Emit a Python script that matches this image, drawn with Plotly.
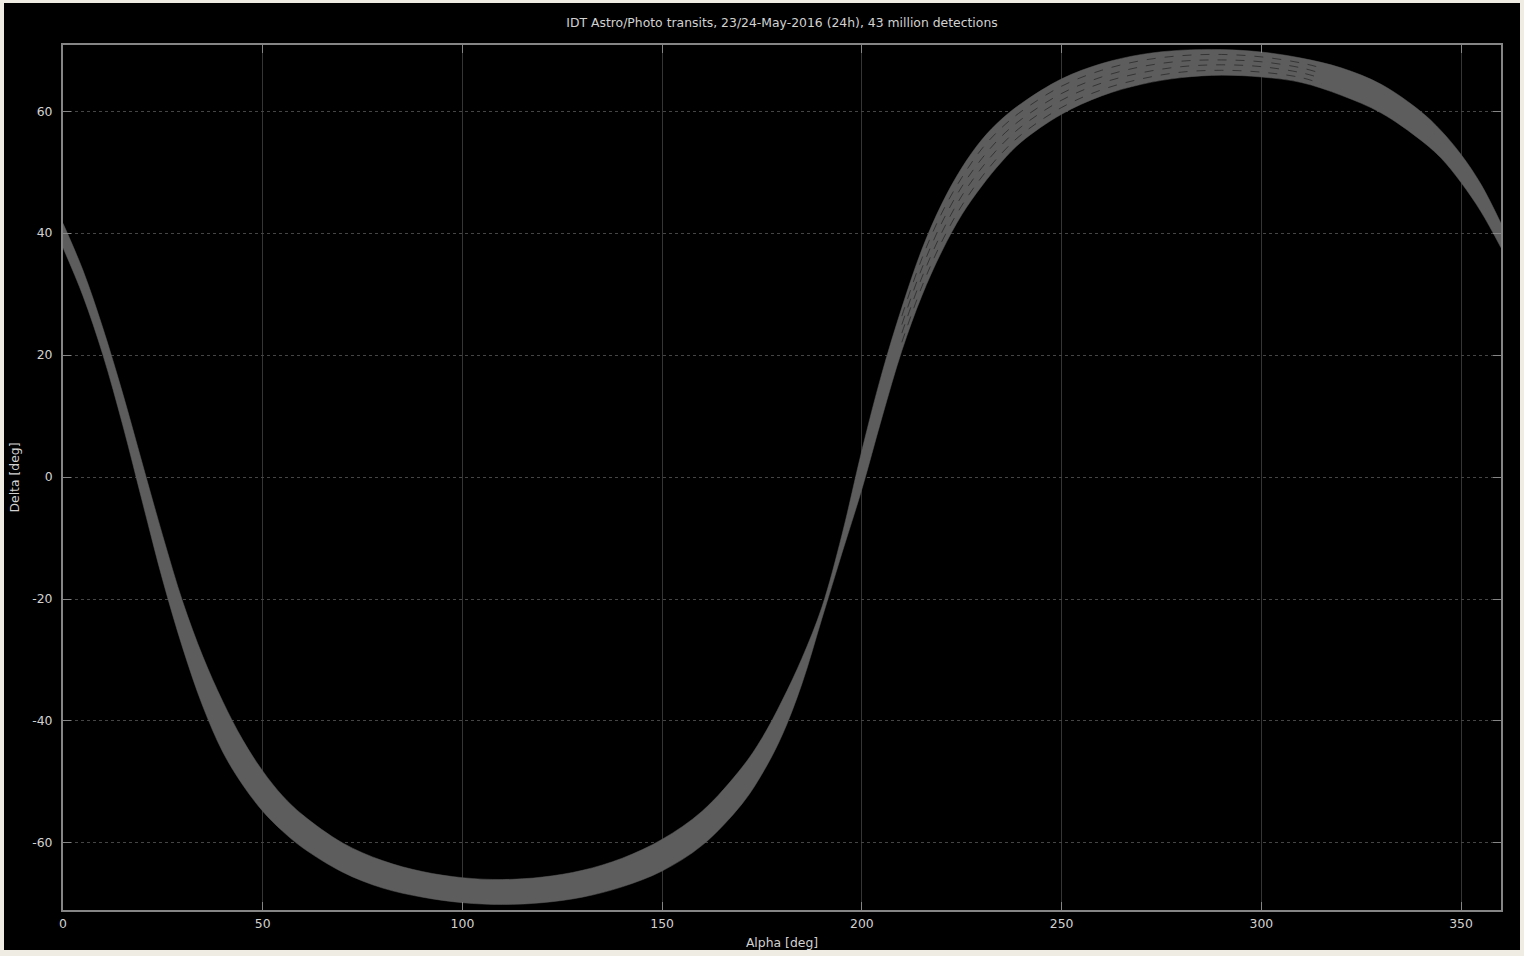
import plotly.graph_objects as go

# ---- data (Alpha [deg], Delta [deg]) ----
# upper and lower edges of the transit band
band_alpha = [0, 5, 10, 15, 20, 25, 30, 35, 40, 45, 50, 55, 60, 70, 80, 90, 100, 110, 120,
              130, 140, 150, 160, 170, 175, 180, 185, 190, 195, 200, 205, 210, 215, 220,
              225, 230, 235, 240, 250, 260, 270, 280, 290, 300, 310, 320, 330, 340, 345,
              350, 355, 360]
upper_delta = [41.6, 33.9, 24.4, 13.6, 1.9, -9.7, -20.5, -29.4, -36.8, -43.1, -48.2, -52.3,
               -55.4, -60.0, -62.9, -64.7, -65.7, -66.0, -65.6, -64.5, -62.5, -59.4, -54.8,
               -47.6, -42.8, -36.7, -29.7, -21.3, -9.5, 4.4, 17.0, 27.8, 37.3, 44.8, 50.7,
               55.3, 58.7, 61.3, 65.3, 67.8, 69.3, 70.0, 70.1, 69.7, 68.7, 67.1, 64.4, 59.9,
               56.8, 52.9, 48.0, 41.6]
lower_delta = [37.6, 29.7, 20.0, 8.4, -4.4, -17.0, -28.1, -37.6, -45.1, -50.5, -54.8, -58.1,
               -60.8, -64.8, -67.4, -68.9, -69.8, -70.1, -69.8, -68.9, -67.2, -64.6, -60.4,
               -53.6, -48.7, -42.4, -33.9, -23.2, -12.5, -2.0, 9.7, 20.7, 29.7, 37.0, 43.0,
               47.7, 51.7, 55.0, 59.5, 62.5, 64.4, 65.5, 65.9, 65.6, 64.7, 62.6, 59.7, 55.2,
               52.3, 48.3, 43.5, 37.6]

# thin dark dividers between the transit strands (upper part of the band)
strand_alpha = [210, 215, 220, 225, 230, 235, 240, 250, 260, 270, 280, 290, 300, 310, 315]
strand_1 = [22.1, 31.2, 38.6, 44.5, 49.2, 53.1, 56.2, 60.6, 63.5, 65.3, 66.4, 66.7, 66.4, 65.5, 64.5]
strand_2 = [23.6, 32.7, 40.1, 46.1, 50.7, 54.5, 57.5, 61.8, 64.6, 66.3, 67.3, 67.6, 67.3, 66.3, 65.4]
strand_3 = [25.0, 34.2, 41.7, 47.6, 52.2, 55.9, 58.7, 62.9, 65.6, 67.3, 68.2, 68.4, 68.1, 67.1, 66.2]
strand_4 = [26.4, 35.8, 43.3, 49.1, 53.8, 57.3, 60.0, 64.1, 66.7, 68.3, 69.1, 69.3, 68.9, 67.9, 67.1]

x_ticks = [0, 50, 100, 150, 200, 250, 300, 350]
y_ticks = [-60, -40, -20, 0, 20, 40, 60]

BAND = "rgb(93,93,93)"
TXT = "#d2d2d2"
FONT = "DejaVu Sans"
FS = 12.4

fig = go.Figure()
fig.add_trace(go.Scatter(x=band_alpha, y=lower_delta, mode="lines",
                         line=dict(color=BAND, width=0.5, shape="spline", smoothing=1.0),
                         hoverinfo="skip", showlegend=False))
fig.add_trace(go.Scatter(x=band_alpha, y=upper_delta, mode="lines", fill="tonexty",
                         fillcolor=BAND,
                         line=dict(color=BAND, width=0.5, shape="spline", smoothing=1.0),
                         hoverinfo="skip", showlegend=False))
for s in (strand_1, strand_2, strand_3, strand_4):
    fig.add_trace(go.Scatter(x=strand_alpha, y=s, mode="lines",
                             line=dict(color="rgba(25,25,25,0.6)", width=1, shape="spline",
                                       dash="dash"),
                             hoverinfo="skip", showlegend=False))

L, R, T, B = 63, 23, 45, 46
W, H = 1524, 956
pw, ph = W - L - R, H - T - B

def px(xp):
    return (xp - L) / pw

def py(yp):
    return (H - B - yp) / ph

fig.add_shape(type="rect", xref="paper", yref="paper", layer="below",
              x0=px(4), x1=px(1520), y0=py(950), y1=py(3),
              fillcolor="black", line=dict(width=0))

fig.update_layout(
    width=W, height=H,
    margin=dict(l=L, r=R, t=T, b=B, autoexpand=False),
    paper_bgcolor="#efede3",
    plot_bgcolor="black",
    font=dict(family=FONT, size=FS, color=TXT),
    title=dict(text="IDT Astro/Photo transits, 23/24-May-2016 (24h), 43 million detections",
               x=0.5, xref="paper", y=1 - 23 / H, yanchor="middle",
               font=dict(family=FONT, size=FS, color=TXT)),
)
fig.update_xaxes(range=[0, 360], tickvals=x_ticks, ticktext=[str(v) for v in x_ticks],
                 showgrid=True, gridcolor="#353535", griddash="solid", gridwidth=1,
                 zeroline=False, showline=True, linecolor="#858585", linewidth=2,
                 mirror="ticks", ticks="inside", ticklen=8, tickcolor="#858585",
                 ticklabelstandoff=1,
                 tickfont=dict(family=FONT, size=FS, color=TXT),
                 title=dict(text="Alpha [deg]", standoff=8,
                            font=dict(family=FONT, size=FS, color=TXT)),
                 automargin=False)
fig.update_yaxes(range=[-71.0, 70.85], tickvals=y_ticks, ticktext=[str(v) for v in y_ticks],
                 showgrid=True, gridcolor="#454545", griddash="dot", gridwidth=1,
                 zeroline=False, showline=True, linecolor="#858585", linewidth=2,
                 mirror="ticks", ticks="inside", ticklen=8, tickcolor="#858585",
                 ticklabelstandoff=6,
                 tickfont=dict(family=FONT, size=FS, color=TXT),
                 title=dict(text="Delta [deg]", standoff=10,
                            font=dict(family=FONT, size=FS, color=TXT)),
                 automargin=False)

fig.write_html("out.html")
